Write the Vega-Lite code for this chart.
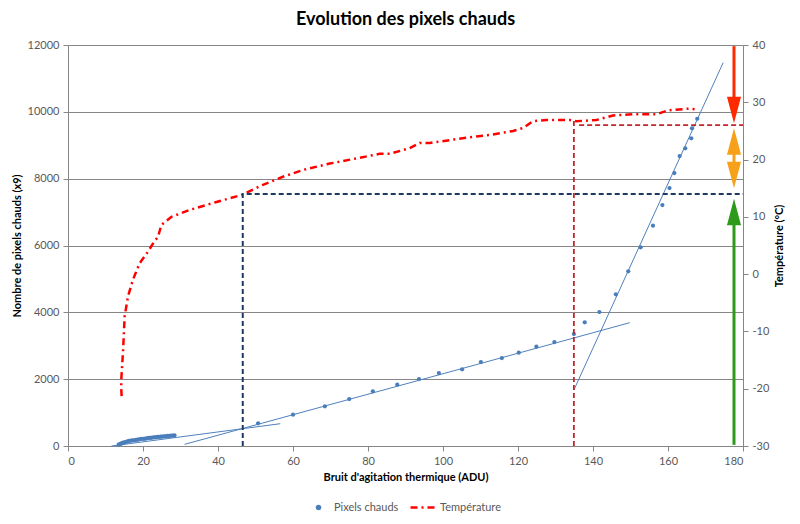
{
  "$schema": "https://vega.github.io/schema/vega-lite/v6.json",
  "width": 675,
  "height": 401,
  "autosize": "none",
  "padding": {"left": 68, "top": 45, "right": 57, "bottom": 78},
  "background": "white",
  "config": {
    "font": "Lato",
    "view": {"stroke": null},
    "axis": {"labelFontSize": 11, "labelColor": "#595959", "titleFontSize": 11, "titleFontWeight": "bold", "titleColor": "#000000", "domainColor": "#868686", "tickColor": "#868686", "tickSize": 5, "labelPadding": 4}
  },
  "title": {"text": "Evolution des pixels chauds", "fontSize": 18, "fontWeight": "bold", "color": "#000000", "anchor": "middle", "offset": 10},
  "encoding": {
    "x": {"field": "x", "type": "quantitative", "scale": {"domain": [0, 180], "nice": false},
      "axis": {"values": [0, 20, 40, 60, 80, 100, 120, 140, 160, 180], "grid": false, "title": "Bruit d'agitation thermique (ADU)", "titlePadding": 5}}
  },
  "layer": [
    {
      "encoding": {
        "y": {"field": "y", "type": "quantitative", "scale": {"domain": [0, 12000], "nice": false},
          "axis": {"orient": "left", "values": [0, 2000, 4000, 6000, 8000, 10000, 12000], "format": "d", "grid": true, "gridColor": "#868686", "title": "Nombre de pixels chauds (x9)", "titlePadding": 5}}
      },
      "layer": [
        {
          "data": {"values": [
            {"fit": "a", "x": 11.6, "y": 0}, {"fit": "a", "x": 56.6, "y": 667},
            {"fit": "b", "x": 31.1, "y": 50}, {"fit": "b", "x": 149.8, "y": 3690},
            {"fit": "c", "x": 134.9, "y": 1676}, {"fit": "c", "x": 174.7, "y": 11470}
          ]},
          "mark": {"type": "line", "color": "#4F81BD", "strokeWidth": 1},
          "encoding": {"detail": {"field": "fit"}}
        },
        {
          "data": {"values": [
            {"x": 13.5, "y": 40}, {"x": 13.9, "y": 60}, {"x": 14.2, "y": 70}, {"x": 14.5, "y": 90},
            {"x": 14.8, "y": 100}, {"x": 15.1, "y": 110}, {"x": 15.5, "y": 120}, {"x": 15.9, "y": 140},
            {"x": 16.3, "y": 150}, {"x": 16.8, "y": 160}, {"x": 17.2, "y": 170}, {"x": 17.7, "y": 170},
            {"x": 18.1, "y": 180}, {"x": 18.6, "y": 190}, {"x": 19.0, "y": 200}, {"x": 19.5, "y": 210},
            {"x": 20.1, "y": 210}, {"x": 20.6, "y": 220}, {"x": 21.0, "y": 230}, {"x": 21.5, "y": 240},
            {"x": 22.0, "y": 240}, {"x": 22.4, "y": 250}, {"x": 22.9, "y": 260}, {"x": 23.3, "y": 260},
            {"x": 23.8, "y": 270}, {"x": 24.2, "y": 270}, {"x": 24.7, "y": 280}, {"x": 25.1, "y": 280},
            {"x": 25.6, "y": 290}, {"x": 26.0, "y": 290}, {"x": 26.5, "y": 300}, {"x": 27.0, "y": 300},
            {"x": 27.5, "y": 310}, {"x": 28.0, "y": 310}, {"x": 28.4, "y": 320},
            {"x": 50.7, "y": 679}, {"x": 60.0, "y": 937}, {"x": 68.5, "y": 1188}, {"x": 75.0, "y": 1406},
            {"x": 81.3, "y": 1636}, {"x": 87.8, "y": 1835}, {"x": 93.6, "y": 2005}, {"x": 98.9, "y": 2184},
            {"x": 105.1, "y": 2295}, {"x": 110.1, "y": 2513}, {"x": 115.7, "y": 2633}, {"x": 120.2, "y": 2793},
            {"x": 124.9, "y": 2972}, {"x": 129.7, "y": 3112}, {"x": 134.9, "y": 3351}, {"x": 137.8, "y": 3700},
            {"x": 141.7, "y": 4010}, {"x": 146.1, "y": 4539}, {"x": 149.4, "y": 5228}, {"x": 152.7, "y": 5946},
            {"x": 156.0, "y": 6592}, {"x": 158.5, "y": 7211}, {"x": 160.4, "y": 7720}, {"x": 161.7, "y": 8169},
            {"x": 163.1, "y": 8677}, {"x": 164.6, "y": 8908}, {"x": 166.2, "y": 9207}, {"x": 166.4, "y": 9506},
            {"x": 167.8, "y": 9793}
          ]},
          "mark": {"type": "point", "filled": true, "opacity": 1, "size": 18},
          "encoding": {
            "color": {"datum": "Pixels chauds", "type": "nominal", "scale": {"range": ["#4A7EBB"]},
              "legend": {"orient": "none", "legendX": 245, "legendY": 457, "title": null, "symbolType": "circle", "symbolSize": 30, "labelOffset": 10, "labelFontSize": 11, "labelColor": "#595959"}}
          }
        }
      ]
    },
    {
      "encoding": {
        "y": {"field": "t", "type": "quantitative", "scale": {"domain": [-30, 40], "nice": false},
          "axis": {"orient": "right", "values": [-30, -20, -10, 0, 10, 20, 30, 40], "labelExpr": "'' + datum.value", "grid": false, "title": "Température (°C)", "titleAngle": 270, "titleBaseline": "top", "titlePadding": 5}}
      },
      "resolve": {"scale": {"color": "independent", "shape": "independent"}},
      "layer": [
        {
          "data": {"values": [
            {"x": 14.3, "t": -21.3}, {"x": 14.2, "t": -20.0}, {"x": 14.2, "t": -18.5}, {"x": 14.7, "t": -13.2},
            {"x": 15.1, "t": -7.4}, {"x": 16.0, "t": -3.9}, {"x": 17.3, "t": -1.0}, {"x": 19.1, "t": 1.9},
            {"x": 21.3, "t": 3.9}, {"x": 23.0, "t": 5.7}, {"x": 24.0, "t": 6.5}, {"x": 24.9, "t": 8.6},
            {"x": 27.6, "t": 10.0}, {"x": 32.4, "t": 11.2}, {"x": 39.6, "t": 12.6}, {"x": 46.2, "t": 13.8},
            {"x": 52.0, "t": 15.6}, {"x": 57.3, "t": 17.0}, {"x": 62.7, "t": 18.2}, {"x": 69.8, "t": 19.3},
            {"x": 76.9, "t": 20.2}, {"x": 83.1, "t": 21.0}, {"x": 85.8, "t": 21.0}, {"x": 91.1, "t": 22.0},
            {"x": 93.8, "t": 22.9}, {"x": 96.5, "t": 22.9}, {"x": 101.8, "t": 23.4}, {"x": 107.1, "t": 23.9},
            {"x": 112.5, "t": 24.3}, {"x": 118.7, "t": 25.0}, {"x": 121.3, "t": 25.5}, {"x": 124.0, "t": 26.7},
            {"x": 127.6, "t": 26.9}, {"x": 133.8, "t": 26.9}, {"x": 135.6, "t": 26.7}, {"x": 140.9, "t": 26.9},
            {"x": 145.3, "t": 27.7}, {"x": 150.7, "t": 27.9}, {"x": 156.9, "t": 27.9}, {"x": 160.0, "t": 28.6},
            {"x": 165.8, "t": 28.9}, {"x": 167.1, "t": 28.8}
          ]},
          "mark": {"type": "line", "strokeWidth": 2.5, "strokeDash": [7, 4, 2, 4]},
          "encoding": {
            "order": {"value": null},
            "color": {"datum": "Température", "type": "nominal", "scale": {"range": ["#FF0000"]},
              "legend": {"orient": "none", "legendX": 341, "legendY": 447, "title": null, "symbolType": "stroke", "symbolSize": 784, "symbolStrokeWidth": 2.5, "symbolDash": [7, 4, 2, 4], "labelOffset": 0, "labelFontSize": 11, "labelColor": "#595959"}}
          }
        },
        {
          "data": {"values": [
            {"x": 46.6, "t": -30}, {"x": 46.6, "t": 14.0}, {"x": 180, "t": 14.0}
          ]},
          "mark": {"type": "line", "color": "#1F3864", "strokeWidth": 2, "strokeDash": [5, 3]},
          "encoding": {"order": {"value": null}}
        },
        {
          "data": {"values": [
            {"seg": "v", "x": 134.9, "t": -30}, {"seg": "v", "x": 134.9, "t": 26.9},
            {"seg": "h", "x": 136.3, "t": 26.0}, {"seg": "h", "x": 180, "t": 26.0}
          ]},
          "mark": {"type": "line", "color": "#C0262D", "strokeWidth": 1.8, "strokeDash": [5, 3]},
          "encoding": {"detail": {"field": "seg"}, "order": {"value": null}}
        },
        {
          "data": {"values": [
            {"fleche": "rouge", "x": 177.6, "t": 39.8, "t2": 30.5},
            {"fleche": "orange", "x": 177.6, "t": 21.2, "t2": 19.2},
            {"fleche": "vert", "x": 177.6, "t": -29.8, "t2": 9.5}
          ]},
          "mark": {"type": "rule", "strokeWidth": 3},
          "encoding": {
            "y2": {"field": "t2"},
            "color": {"field": "fleche", "type": "nominal", "scale": {"domain": ["rouge", "orange", "vert"], "range": ["#FF2A00", "#F7A11A", "#2D9A1B"]}, "legend": null}
          }
        },
        {
          "data": {"values": [
            {"fleche": "rouge", "sens": "bas", "x": 177.6, "t": 28.65},
            {"fleche": "orange", "sens": "haut", "x": 177.6, "t": 23.15},
            {"fleche": "orange", "sens": "bas", "x": 177.6, "t": 17.3},
            {"fleche": "vert", "sens": "haut", "x": 177.6, "t": 10.85}
          ]},
          "mark": {"type": "point", "filled": true, "opacity": 1, "size": 708, "strokeWidth": 0},
          "encoding": {
            "color": {"field": "fleche", "type": "nominal", "scale": {"domain": ["rouge", "orange", "vert"], "range": ["#FF2A00", "#F7A11A", "#2D9A1B"]}, "legend": null},
            "shape": {"field": "sens", "type": "nominal", "scale": {"domain": ["bas", "haut"], "range": ["M-0.53,-1L0.53,-1L0,1Z", "M-0.53,1L0.53,1L0,-1Z"]}, "legend": null}
          }
        }
      ]
    }
  ],
  "resolve": {"scale": {"y": "independent", "color": "independent"}}
}
